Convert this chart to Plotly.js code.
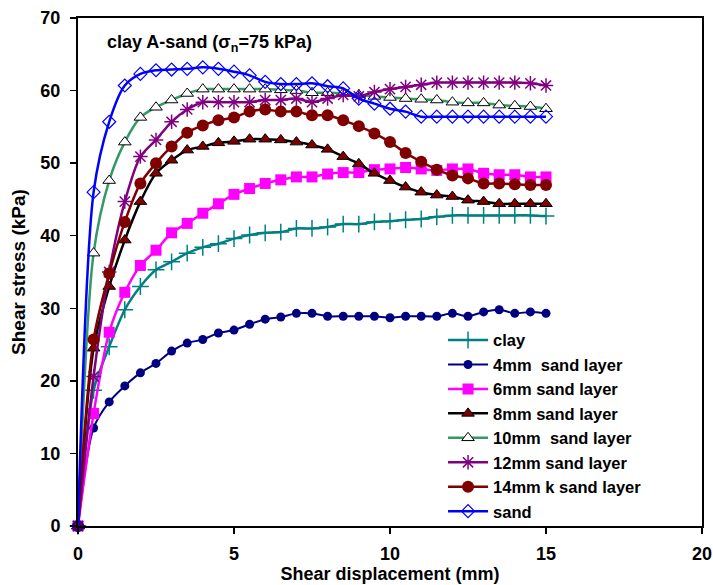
<!DOCTYPE html>
<html>
<head>
<meta charset="utf-8">
<script src="https://cdn.plot.ly/plotly-3.0.1.min.js"></script>
<style>html,body{margin:0;padding:0;background:#fff;}#chart{width:713px;height:585px;}</style>
</head>
<body>
<div id="chart"></div>
<script>
const displacement = [0,0.5,1,1.5,2,2.5,3,3.5,4,4.5,5,5.5,6,6.5,7,7.5,8,8.5,9,9.5,10,10.5,11,11.5,12,12.5,13,13.5,14,14.5,15];

const clay   = [0,18.7,24.7,29.8,33.0,35.3,36.4,37.6,38.4,38.9,39.6,40.1,40.4,40.5,41.0,41.0,41.2,41.6,41.6,41.9,42.0,42.2,42.3,42.6,42.8,42.8,42.8,42.8,42.8,42.8,42.7];
const mm4    = [0,13.5,17.1,19.3,21.1,22.4,24.1,25.2,25.7,26.6,27.0,27.8,28.5,28.8,29.3,29.3,28.9,28.9,28.9,28.9,28.7,28.9,28.9,28.9,29.3,28.9,29.5,29.8,29.3,29.5,29.3];
const mm6    = [0,15.5,26.7,32.2,35.9,38.0,40.4,41.7,43.1,44.4,45.7,46.5,47.2,47.7,48.1,48.1,48.5,48.7,48.7,49.1,49.2,49.4,49.2,49.0,49.2,49.2,48.6,48.4,48.4,48.1,48.1];
const mm8    = [0,24.5,33.0,39.4,44.7,48.6,50.4,51.8,52.3,52.8,53.0,53.3,53.3,53.2,52.9,52.5,51.9,50.9,49.9,48.6,47.6,46.7,46.0,45.6,45.4,44.9,44.7,44.4,44.4,44.4,44.4];
const mm10   = [0,37.6,47.6,52.9,56.3,57.7,58.7,59.6,60.2,60.2,60.2,60.2,60.2,60.1,60.0,59.7,59.7,59.6,59.4,59.2,59.05,58.9,58.8,58.7,58.4,58.3,58.3,58.0,57.9,57.8,57.5];
const mm12   = [0,20.6,35.0,44.7,50.9,53.2,55.7,57.4,58.4,58.4,58.4,58.4,58.7,58.7,58.9,58.4,58.9,59.4,59.2,59.8,60.2,60.5,60.8,61.1,61.1,61.1,61.1,61.1,61.1,61.0,60.7];
const mm14   = [0,25.7,34.8,41.9,47.2,50.0,52.3,54.2,55.2,55.9,56.3,57.1,57.4,57.1,57.1,56.6,56.6,55.9,55.1,54.1,52.9,51.4,50.2,49.1,48.3,47.9,47.2,47.2,47.1,47.0,47.0];
const sand   = [0,46.0,55.7,60.7,62.3,62.8,62.9,63.0,63.2,63.0,62.6,62.1,61.2,60.9,60.9,61.0,60.6,60.3,58.9,58.2,57.5,57.1,56.4,56.4,56.4,56.4,56.4,56.4,56.4,56.4,56.4];

const seriesNames = ['clay','4mm  sand layer','6mm sand layer','8mm sand layer','10mm  sand layer','12mm sand layer','14mm k sand layer','sand'];

const xTicks = [0,5,10,15,20];
const yTicks = [0,10,20,30,40,50,60,70];

const FONT = 'Liberation Sans, Arial, sans-serif';

function tr(name, y, lineColor, marker, lw) {
  return {
    x: displacement, y: y, name: name, type: 'scatter', mode: 'lines+markers',
    line: {color: lineColor, width: lw || 2.5, shape: 'spline', smoothing: 0.8},
    marker: marker, cliponaxis: false, legendgroup: name
  };
}

const data = [
  tr(seriesNames[0], clay, '#008080', {symbol: 'cross-thin', size: 12, color: '#008080', line: {color: '#008080', width: 1.5}}),
  tr(seriesNames[1], mm4, '#000080', {symbol: 'circle', size: 9, color: '#000080'}, 2),
  tr(seriesNames[2], mm6, '#FF00FF', {symbol: 'square', size: 11, color: '#FF00FF'}),
  tr(seriesNames[3], mm8, '#000000', {symbol: 'triangle-up', size: 11, color: '#800000', line: {color: '#000000', width: 1}}),
  tr(seriesNames[4], mm10, '#339966', {symbol: 'triangle-up', size: 11, color: '#FFFFFF', line: {color: '#000000', width: 1}}),
  tr(seriesNames[5], mm12, '#800080', {symbol: 'asterisk-open', size: 12, color: '#800080', line: {color: '#800080', width: 1.5}}),
  tr(seriesNames[6], mm14, '#800000', {symbol: 'circle', size: 12, color: '#800000'}),
  tr(seriesNames[7], sand, '#0000FF', {symbol: 'diamond-open', size: 10, color: '#0000FF', line: {color: '#0000FF', width: 1.2}})
];

const layout = {
  width: 713, height: 585,
  margin: {l: 78, r: 11, t: 18, b: 59},
  paper_bgcolor: '#ffffff', plot_bgcolor: '#ffffff',
  font: {family: FONT, color: '#000000', weight: 'bold'},
  showlegend: true,
  legend: {
    x: 0.585, y: 0.40, xanchor: 'left', yanchor: 'top',
    bgcolor: 'rgba(255,255,255,0)', borderwidth: 0,
    font: {family: FONT, size: 16.5, color: '#000000', weight: 'bold'},
    itemwidth: 40, traceorder: 'normal', tracegroupgap: 0
  },
  xaxis: {
    range: [0, 20], tickvals: xTicks, ticktext: xTicks.map(String),
    showline: true, linecolor: '#000000', linewidth: 2, mirror: true,
    ticks: 'outside', ticklen: 6, tickwidth: 1.5, tickcolor: '#000000',
    showgrid: false, zeroline: false, ticklabelstandoff: 4,
    tickfont: {family: FONT, size: 18, color: '#000000', weight: 'bold'},
    title: {text: 'Shear displacement (mm)', font: {family: FONT, size: 18, color: '#000000', weight: 'bold'}, standoff: 2}
  },
  yaxis: {
    range: [0, 70], tickvals: yTicks, ticktext: yTicks.map(String),
    showline: true, linecolor: '#000000', linewidth: 2, mirror: true,
    ticks: 'outside', ticklen: 6, tickwidth: 1.5, tickcolor: '#000000',
    showgrid: false, zeroline: false, ticklabelstandoff: 6,
    tickfont: {family: FONT, size: 18, color: '#000000', weight: 'bold'},
    title: {text: 'Shear stress (kPa)', font: {family: FONT, size: 19, color: '#000000', weight: 'bold'}, standoff: 10}
  },
  annotations: [{
    xref: 'paper', yref: 'paper', x: 0.043, y: 0.949, xanchor: 'left', yanchor: 'middle',
    text: 'clay A-sand (σ<sub>n</sub>=75 kPa)', showarrow: false,
    font: {family: FONT, size: 18, color: '#000000', weight: 'bold'}
  }]
};

Plotly.newPlot('chart', data, layout, {displayModeBar: false, staticPlot: true});
</script>
</body>
</html>
